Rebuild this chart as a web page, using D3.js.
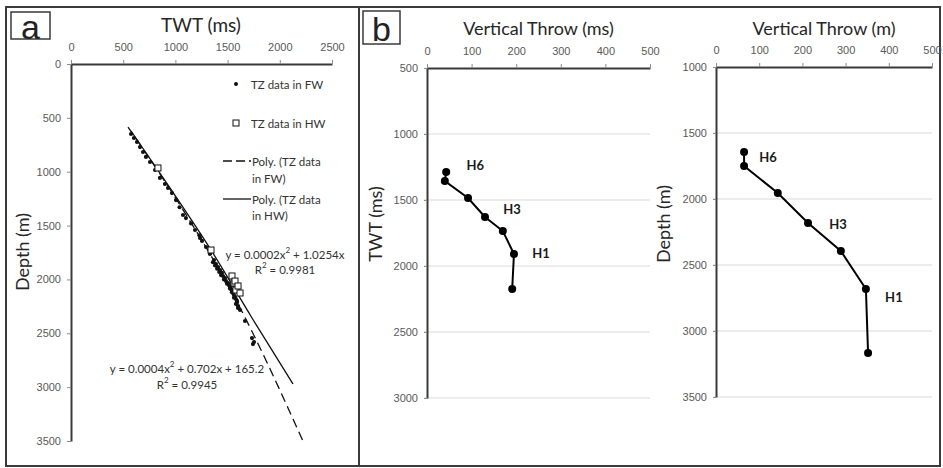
<!DOCTYPE html>
<html>
<head>
<meta charset="utf-8">
<script src="https://cdn.jsdelivr.net/npm/d3@7"></script>
<style>
  body { margin: 0; background: #fff; }
  svg { display: block; font-family: Lato, "Open Sans", sans-serif; }
  .tick text { fill: #595959; font-size: 11px; }
</style>
</head>
<body>
<div id="chart"></div>
<script>
// panel a: TWT (ms) vs depth (m), footwall dots and hanging wall squares
var fwTwt   = [575, 603, 632, 661, 690, 718, 757, 805, 852, 900, 929, 967, 1006, 1073, 1101, 1188, 1236, 1255, 1293, 1331,
               1370, 1389, 1408, 1427, 1446, 1456, 1475, 1485, 1504, 1513, 1523, 1533, 1542, 1552, 1561, 1571, 1580, 1590,
               1580, 1600, 1619, 1667, 1734, 1753, 1743,
               1360, 1380, 1400, 1420, 1437, 1465, 1494, 1523, 1542, 1561, 1590, 1600, 1230, 1150, 1040];
var fwDepth = [650, 687, 724, 771, 817, 863, 910, 984, 1058, 1114, 1151, 1198, 1263, 1402, 1430, 1541, 1615, 1643, 1699, 1764,
               1820, 1857, 1885, 1913, 1940, 1968, 1987, 2015, 2033, 2052, 2070, 2089, 2107, 2126, 2145, 2163, 2182, 2200,
               2228, 2247, 2284, 2386, 2544, 2581, 2600,
               1840, 1870, 1900, 1930, 1960, 2000, 2040, 2085, 2120, 2170, 2215, 2265, 1590, 1480, 1330];
var hwTwt   = [833, 1341, 1542, 1561, 1571, 1580, 1600, 1619];
var hwDepth = [965, 1727, 1968, 2033, 2015, 2098, 2061, 2126];

// polynomial trend lines
var fwTrendTwt   = [546, 1044, 1580, 2222];
var fwTrendDepth = [585, 1309, 2191, 3500];
var hwTrendTwt   = [575, 948, 1341, 1734, 2126];
var hwTrendDepth = [622, 1151, 1727, 2358, 2971];

var xTicksA = [0, 500, 1000, 1500, 2000, 2500];
var yTicksA = [0, 500, 1000, 1500, 2000, 2500, 3000, 3500];

// panel b: vertical throw profiles
var horizonLabels = ["H6", "H3", "H1"];
var throwMs  = [43, 40, 92, 130, 170, 195, 191];
var twtMs    = [1288, 1356, 1485, 1629, 1735, 1909, 2174];
var throwM   = [65, 65, 143, 213, 289, 347, 352];
var depthM   = [1644, 1750, 1955, 2182, 2394, 2682, 3167];
var throwTicks = [0, 100, 200, 300, 400, 500];
var twtTicks   = [500, 1000, 1500, 2000, 2500, 3000];
var depthTicks = [1000, 1500, 2000, 2500, 3000, 3500];

var width = 943, height = 468;
var dark = "#3a3a3a", grid = "#d9d9d9";
var fmt = d3.format("d");

var svg = d3.select("#chart").append("svg")
    .attr("width", width)
    .attr("height", height);

// frame around both panels
svg.append("rect")
    .attr("x", 6).attr("y", 7)
    .attr("width", 934).attr("height", 459)
    .attr("fill", "none").attr("stroke", dark).attr("stroke-width", 2);
svg.append("line")
    .attr("x1", 359).attr("x2", 359).attr("y1", 7).attr("y2", 466)
    .attr("stroke", dark).attr("stroke-width", 2);

function panelLetter(x, y, w, h, letter) {
    svg.append("rect")
        .attr("x", x).attr("y", y).attr("width", w).attr("height", h)
        .attr("fill", "#fff").attr("stroke", dark).attr("stroke-width", 1.5);
    svg.append("text")
        .attr("x", x + w / 2).attr("y", y + h / 2 + 1)
        .attr("text-anchor", "middle").attr("dominant-baseline", "central")
        .style("font-family", "'Liberation Sans', Arial, sans-serif")
        .style("font-size", "34px").attr("fill", "#222")
        .text(letter);
}

function styleAxis(g) {
    g.select(".domain").attr("stroke", dark).attr("stroke-width", 2);
    g.selectAll(".tick line").attr("stroke", "#8c8c8c");
}

// ---------- panel a ----------
var xa = d3.scaleLinear().domain([0, 2500]).range([71, 332]);
var ya = d3.scaleLinear().domain([0, 3500]).range([64, 441]);

panelLetter(11, 12, 39, 27, "a");

svg.append("g")
    .attr("transform", "translate(0,64)")
    .call(d3.axisTop(xa).tickValues(xTicksA).tickFormat(fmt).tickSize(4).tickSizeOuter(0).tickPadding(9))
    .call(styleAxis);

svg.append("g")
    .attr("transform", "translate(71,0)")
    .call(d3.axisLeft(ya).tickValues(yTicksA).tickFormat(fmt).tickSize(4).tickSizeOuter(0).tickPadding(6))
    .call(styleAxis);

svg.append("text")
    .attr("x", 201).attr("y", 24)
    .attr("text-anchor", "middle").attr("dominant-baseline", "central")
    .style("font-size", "19px").attr("fill", "#262626")
    .text("TWT (ms)");

svg.append("text")
    .attr("transform", "translate(22,252) rotate(-90)")
    .attr("text-anchor", "middle").attr("dominant-baseline", "central")
    .style("font-size", "18px").attr("fill", "#262626")
    .text("Depth (m)");

var trend = d3.line().curve(d3.curveMonotoneX)
    .x(function(d) { return xa(d[0]); })
    .y(function(d) { return ya(d[1]); });

svg.append("path")
    .datum(d3.zip(fwTrendTwt, fwTrendDepth))
    .attr("d", trend)
    .attr("fill", "none").attr("stroke", "#111").attr("stroke-width", 1.3)
    .attr("stroke-dasharray", "9,5");

svg.append("path")
    .datum(d3.zip(hwTrendTwt, hwTrendDepth))
    .attr("d", trend)
    .attr("fill", "none").attr("stroke", "#111").attr("stroke-width", 1.3);

svg.append("g").selectAll("circle")
    .data(d3.zip(fwTwt, fwDepth))
    .enter().append("circle")
    .attr("cx", function(d) { return xa(d[0]); })
    .attr("cy", function(d) { return ya(d[1]); })
    .attr("r", 2.1)
    .attr("fill", "#111");

svg.append("g").selectAll("rect")
    .data(d3.zip(hwTwt, hwDepth))
    .enter().append("rect")
    .attr("x", function(d) { return xa(d[0]) - 3; })
    .attr("y", function(d) { return ya(d[1]) - 3; })
    .attr("width", 6).attr("height", 6)
    .attr("fill", "#fff").attr("stroke", "#111").attr("stroke-width", 1);

// legend
var legend = svg.append("g").style("font-size", "11.5px").attr("fill", "#333");
legend.append("circle").attr("cx", 236).attr("cy", 84).attr("r", 2).attr("fill", "#111");
legend.append("text").attr("x", 251).attr("y", 84).attr("dominant-baseline", "central").text("TZ data in FW");
legend.append("rect").attr("x", 233).attr("y", 120).attr("width", 6).attr("height", 6)
    .attr("fill", "#fff").attr("stroke", "#111");
legend.append("text").attr("x", 251).attr("y", 123).attr("dominant-baseline", "central").text("TZ data in HW");
legend.append("line").attr("x1", 223).attr("x2", 251).attr("y1", 161).attr("y2", 161)
    .attr("stroke", "#111").attr("stroke-width", 1.3).attr("stroke-dasharray", "9,4");
legend.append("text").attr("x", 252).attr("y", 161).attr("dominant-baseline", "central").text("Poly. (TZ data");
legend.append("text").attr("x", 252).attr("y", 178).attr("dominant-baseline", "central").text("in FW)");
legend.append("line").attr("x1", 223).attr("x2", 251).attr("y1", 199).attr("y2", 199)
    .attr("stroke", "#111").attr("stroke-width", 1.3);
legend.append("text").attr("x", 252).attr("y", 199).attr("dominant-baseline", "central").text("Poly. (TZ data");
legend.append("text").attr("x", 252).attr("y", 215).attr("dominant-baseline", "central").text("in HW)");

// equations
var eq = svg.append("g").style("font-size", "11.5px").attr("fill", "#333").attr("text-anchor", "middle");
function equation(x, y, a, b) {
    var t = eq.append("text").attr("x", x).attr("y", y).attr("dominant-baseline", "central");
    t.append("tspan").text(a);
    t.append("tspan").attr("dy", -4).style("font-size", "8px").text("2");
    t.append("tspan").attr("dy", 4).text(b);
}
equation(285, 254, "y = 0.0002x", " + 1.0254x");
equation(285, 269, "R", " = 0.9981");
equation(187, 368, "y = 0.0004x", " + 0.702x + 165.2");
equation(187, 384, "R", " = 0.9945");

// ---------- panel b ----------
panelLetter(363, 11, 37, 33, "b");

function throwPanel(opt) {
    var x = d3.scaleLinear().domain([0, 500]).range(opt.xRange);
    var y = d3.scaleLinear().domain(opt.yDomain).range(opt.yRange);

    svg.append("g").selectAll("line")
        .data(opt.yTicks.slice(1))
        .enter().append("line")
        .attr("x1", x(0) - 3).attr("x2", x(500))
        .attr("y1", function(d) { return y(d); })
        .attr("y2", function(d) { return y(d); })
        .attr("stroke", grid).attr("stroke-width", 1);

    svg.append("g")
        .attr("transform", "translate(0," + y.range()[0] + ")")
        .call(d3.axisTop(x).tickValues(throwTicks).tickFormat(fmt).tickSize(4).tickSizeOuter(0).tickPadding(9))
        .call(styleAxis);

    svg.append("g")
        .attr("transform", "translate(" + x(0) + ",0)")
        .call(d3.axisLeft(y).tickValues(opt.yTicks).tickFormat(fmt).tickSize(3).tickSizeOuter(0).tickPadding(6))
        .call(styleAxis);

    svg.append("text")
        .attr("x", (opt.xRange[0] + opt.xRange[1]) / 2).attr("y", 28)
        .attr("text-anchor", "middle").attr("dominant-baseline", "central")
        .style("font-size", "18px").attr("fill", "#262626")
        .text(opt.title);

    svg.append("text")
        .attr("transform", "translate(" + opt.ylabelX + ",224) rotate(-90)")
        .attr("text-anchor", "middle").attr("dominant-baseline", "central")
        .style("font-size", "18px").attr("fill", "#262626")
        .text(opt.ylabel);

    var pts = d3.zip(opt.xs, opt.ys);
    svg.append("path")
        .datum(pts)
        .attr("d", d3.line().x(function(d) { return x(d[0]); }).y(function(d) { return y(d[1]); }))
        .attr("fill", "none").attr("stroke", "#000").attr("stroke-width", 2);

    svg.append("g").selectAll("circle")
        .data(pts)
        .enter().append("circle")
        .attr("cx", function(d) { return x(d[0]); })
        .attr("cy", function(d) { return y(d[1]); })
        .attr("r", 4)
        .attr("fill", "#000");

    svg.append("g").selectAll("text")
        .data(horizonLabels)
        .enter().append("text")
        .attr("x", function(d, i) { var p = pts[opt.labelAt[i]]; return x(p[0]) + opt.labelOff[i][0]; })
        .attr("y", function(d, i) { var p = pts[opt.labelAt[i]]; return y(p[1]) + opt.labelOff[i][1]; })
        .attr("text-anchor", "middle").attr("dominant-baseline", "central")
        .style("font-size", "13px").style("font-weight", "bold").attr("fill", "#1a1a1a")
        .text(function(d) { return d; });
}

throwPanel({
    xRange: [427, 650], yDomain: [500, 3000], yRange: [68, 398], yTicks: twtTicks,
    xs: throwMs, ys: twtMs, title: "Vertical Throw (ms)", ylabel: "TWT (ms)", ylabelX: 375,
    labelAt: [0, 3, 5], labelOff: [[29, -7], [27, -8], [27, -1]]
});

throwPanel({
    xRange: [716, 932], yDomain: [1000, 3500], yRange: [67, 397], yTicks: depthTicks,
    xs: throwM, ys: depthM, title: "Vertical Throw (m)", ylabel: "Depth (m)", ylabelX: 663,
    labelAt: [0, 3, 5], labelOff: [[24, 5], [30, 1], [28, 8]]
});
</script>
</body>
</html>
